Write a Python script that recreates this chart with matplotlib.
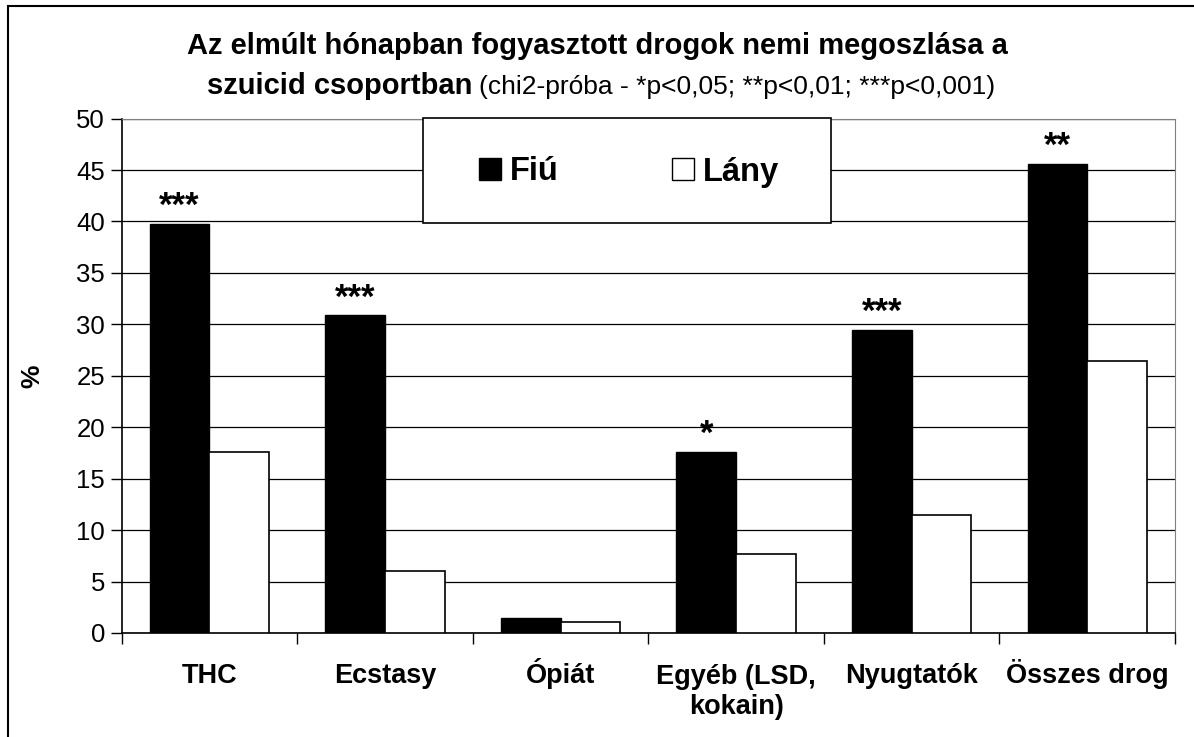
import matplotlib
matplotlib.use('Agg')
import matplotlib.pyplot as plt
import numpy as np
from matplotlib.patches import Patch, Rectangle
from matplotlib.transforms import ScaledTranslation

plt.rcParams['font.family'] = ['Liberation Sans', 'DejaVu Sans']

categories = ['THC', 'Ecstasy', 'Ópiát', 'Egyéb (LSD,\nkokain)', 'Nyugtatók', 'Összes drog']
fiu = [39.8, 30.9, 1.5, 17.6, 29.5, 45.6]
lany = [17.6, 6.0, 1.1, 7.7, 11.5, 26.4]
stars = ['***', '***', '', '*', '***', '**']
yticks = list(range(0, 51, 5))

W, H = 1194, 737
fig = plt.figure(figsize=(W / 100, H / 100), dpi=100)
ax = fig.add_axes([121.7 / W, 1 - 633 / H, (1175 - 121.7) / W, (633 - 118.6) / H])

x = np.arange(len(categories))
bw = 0.34
ax.bar(x - bw / 2, fiu, bw, color='black', edgecolor='black', linewidth=1, zorder=3)
ax.bar(x + bw / 2, lany, bw, color='white', edgecolor='black', linewidth=1.2, zorder=3)

# significance stars above the boys' bars
for xi, v, s in zip(x, fiu, stars):
    if s:
        ax.annotate(s, (xi - bw / 2, v), xytext=(0, 5.5), textcoords='offset points',
                    ha='center', va='baseline', fontsize=25, fontweight='bold', zorder=4)

ax.set_xlim(-0.5, len(categories) - 0.5)
ax.set_ylim(0, 50)
ax.set_yticks(yticks)
ax.yaxis.grid(True, color='black', linewidth=0.9, zorder=0)
ax.set_axisbelow(True)

ax.set_xticks(x)
ax.set_xticks(np.arange(len(categories) + 1) - 0.5, minor=True)
ax.tick_params(axis='x', which='major', length=0, pad=36)
ax.tick_params(axis='x', which='minor', length=8, width=1, color='black')
ax.tick_params(axis='y', length=8, width=1, pad=4, labelsize=18.5)
ax.set_xticklabels(categories, fontsize=19.5, fontweight='bold', linespacing=1.2)
# align all first lines on one baseline (accents would push Ó/Ö labels down otherwise)
for lbl in ax.get_xticklabels():
    lbl.set_verticalalignment('baseline')
    n = lbl.get_text().count('\n')
    if n:
        lbl.set_transform(lbl.get_transform() +
                          ScaledTranslation(0, -0.305 * n, fig.dpi_scale_trans))

ax.spines['top'].set_color('#808080')
ax.spines['right'].set_color('#808080')
ax.spines['left'].set_linewidth(1.2)
ax.spines['bottom'].set_linewidth(1.2)

ax.set_ylabel('%', fontsize=19, fontweight='bold')
ax.yaxis.set_label_coords((44 - 121.7) / (1175 - 121.7), 0.5)

# legend box
fig.patches.append(Rectangle((423 / W, 1 - 223 / H), (831 - 423) / W, (223 - 118) / H,
                             facecolor='white', edgecolor='black', linewidth=1.2,
                             transform=fig.transFigure, zorder=5))
handles = [Patch(facecolor='black', edgecolor='black', label='Fiú'),
           Patch(facecolor='white', edgecolor='black', label='Lány')]
leg = fig.legend(handles=handles, loc='center', ncol=2,
                 bbox_to_anchor=(629 / W, 1 - 172 / H),
                 prop={'size': 23.5, 'weight': 'bold'}, frameon=False,
                 handlelength=0.68, handleheight=0.68, handletextpad=0.28,
                 columnspacing=3.45, borderpad=0, borderaxespad=0)
leg.set_zorder(6)

fig.text(597 / W, 1 - 54 / H, 'Az elmúlt hónapban fogyasztott drogok nemi megoszlása a',
         ha='center', va='baseline', fontsize=21, fontweight='bold')
t1 = fig.text(207 / W, 1 - 94 / H, 'szuicid csoportban', ha='left', va='baseline',
              fontsize=21, fontweight='bold')
fig.canvas.draw()
bb = t1.get_window_extent()
fig.text((bb.x1 + 7) / W, 1 - 94 / H, '(chi2-próba - *p<0,05; **p<0,01; ***p<0,001)',
         ha='left', va='baseline', fontsize=19)

fig.patches.append(Rectangle((8 / W, -0.02), 1.1, 1 - 6 / H + 0.02, fill=False,
                             edgecolor='black', linewidth=1.5, transform=fig.transFigure))

fig.savefig('out.png', dpi=100)
